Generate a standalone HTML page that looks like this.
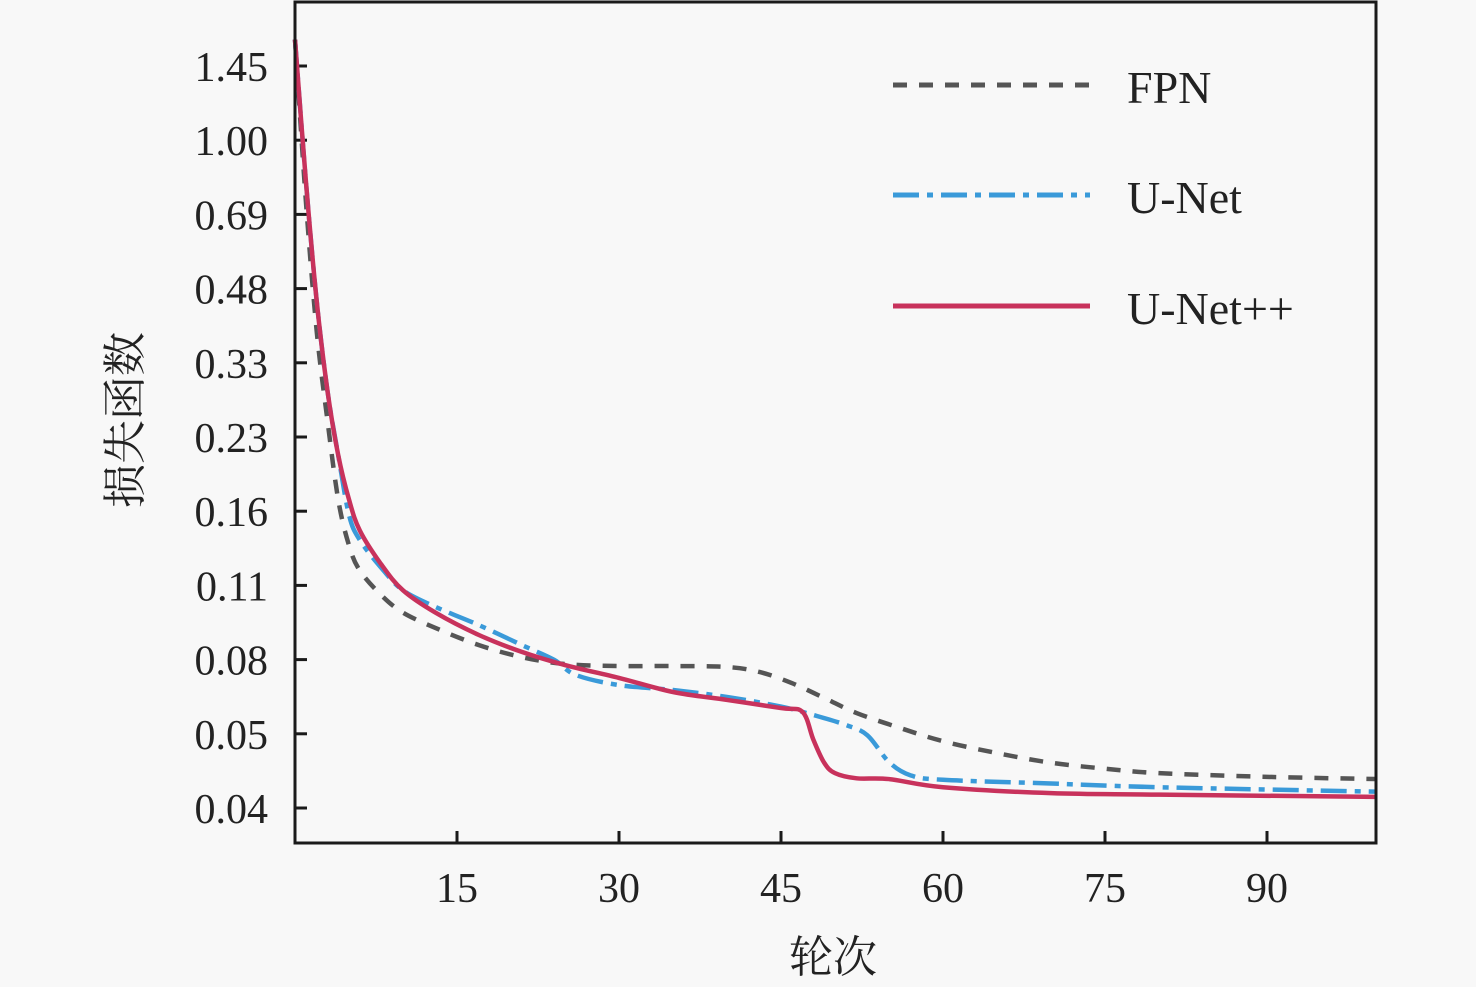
<!DOCTYPE html>
<html><head><meta charset="utf-8"><style>
body{margin:0;background:#f8f8f8;}
svg{display:block;font-family:"Liberation Serif","Noto Serif CJK SC",serif;}
</style></head><body>
<svg id="chart" width="1476" height="987" viewBox="0 0 1476 987">
<rect x="0" y="0" width="1476" height="987" fill="#f8f8f8"/>
<g id="ticks"></g>
<g id="series"></g>
<rect x="295" y="2" width="1081" height="841" fill="none" stroke="#1a1a1a" stroke-width="3"/>
<text x="833" y="972" font-size="44" text-anchor="middle" fill="#222">轮次</text>
<text transform="translate(140,420) rotate(-90)" font-size="44" text-anchor="middle" fill="#222">损失函数</text>
<g>
<line x1="893" y1="85" x2="1090" y2="85" stroke="#555" stroke-width="5" stroke-dasharray="14 12"/>
<text x="1127" y="103" font-size="46" fill="#222">FPN</text>
<line x1="893" y1="195" x2="1090" y2="195" stroke="#3a9ad9" stroke-width="5" stroke-dasharray="26 8 6 8"/>
<text x="1127" y="213" font-size="46" fill="#222">U-Net</text>
<line x1="893" y1="306" x2="1090" y2="306" stroke="#c8325c" stroke-width="5"/>
<text x="1127" y="324" font-size="46" fill="#222">U-Net++</text>
</g>
</svg>
<script>
const yTickValues=[1.45,1.00,0.69,0.48,0.33,0.23,0.16,0.11,0.08,0.05,0.04];
const yTickLabels=["1.45","1.00","0.69","0.48","0.33","0.23","0.16","0.11","0.08","0.05","0.04"];
const xTickValues=[15,30,45,60,75,90];
const fpnX=[0,1,2,3,4,5,6,8,10,13,17,21,25,30,35,40,43,46,49,52,56,60,65,70,75,80,90,100];
const fpnY=[1.61,0.75,0.396,0.253,0.171,0.137,0.120,0.106,0.099,0.0928,0.0859,0.081,0.0782,0.0774,0.0774,0.077,0.075,0.0705,0.0645,0.0584,0.0524,0.049,0.0474,0.0461,0.0453,0.0447,0.0442,0.0439];
const unetX=[0,1,2,3,4,5,6,8,10,13,17,21,24,26,30,35,40,45,48,51,53,55,57,60,70,80,100];
const unetY=[1.61,0.834,0.457,0.293,0.213,0.1575,0.1406,0.1217,0.108,0.1013,0.094,0.0859,0.0799,0.0738,0.0697,0.0677,0.0649,0.061,0.0576,0.0536,0.0498,0.0462,0.0444,0.0438,0.0433,0.0428,0.0422];
const unetppX=[0,1,2,3,4,5,6,8,10,13,17,21,25,30,35,40,45,47,48,49,50,52,55,60,70,80,100];
const unetppY=[1.61,0.834,0.457,0.293,0.213,0.171,0.147,0.124,0.108,0.099,0.090,0.0831,0.0778,0.0726,0.0669,0.0637,0.0604,0.0588,0.0492,0.0461,0.0447,0.044,0.0439,0.0428,0.042,0.0418,0.0415];

const NS="http://www.w3.org/2000/svg";
function xScale(v){return 295+v*10.8;}
function yScale(v){
  const t=yTickValues,n=t.length;
  let i;
  if(v>=t[0]) i=-(v-t[0])/(t[0]-t[1]);
  else if(v<=t[n-1]) i=(n-1)+(t[n-1]-v)/(t[n-2]-t[n-1]);
  else{for(let k=0;k<n-1;k++){if(v<=t[k]&&v>=t[k+1]){i=k+(t[k]-v)/(t[k]-t[k+1]);break;}}}
  return 66+i*74.2;
}
const tg=document.getElementById('ticks');
yTickValues.forEach((v,k)=>{
  const y=yScale(v);
  const l=document.createElementNS(NS,'line');
  l.setAttribute('x1',295);l.setAttribute('x2',307);l.setAttribute('y1',y);l.setAttribute('y2',y);
  l.setAttribute('stroke','#1a1a1a');l.setAttribute('stroke-width','3');
  
  
  tg.appendChild(l);
  const t=document.createElementNS(NS,'text');
  t.setAttribute('x',268);t.setAttribute('y',y+15);t.setAttribute('font-size','42');t.setAttribute('text-anchor','end');t.setAttribute('fill','#222');
  t.textContent=yTickLabels[k];
  
  
  tg.appendChild(t);
});
xTickValues.forEach(v=>{
  const x=xScale(v);
  const l=document.createElementNS(NS,'line');
  l.setAttribute('x1',x);l.setAttribute('x2',x);l.setAttribute('y1',843);l.setAttribute('y2',831);
  l.setAttribute('stroke','#1a1a1a');l.setAttribute('stroke-width','3');
  
  
  tg.appendChild(l);
  const t=document.createElementNS(NS,'text');
  t.setAttribute('x',x);t.setAttribute('y',902);t.setAttribute('font-size','42');t.setAttribute('text-anchor','middle');t.setAttribute('fill','#222');
  t.textContent=String(v);
  
  
  tg.appendChild(t);
});
function pathD(xs,ys){
  const p=xs.map((x,i)=>[xScale(x),yScale(ys[i])]);
  let d='M'+p[0][0]+','+p[0][1];
  for(let i=0;i<p.length-1;i++){
    const p0=p[i-1]||p[i],p1=p[i],p2=p[i+1],p3=p[i+2]||p2;
    const c1=[p1[0]+(p2[0]-p0[0])/6,p1[1]+(p2[1]-p0[1])/6];
    const c2=[p2[0]-(p3[0]-p1[0])/6,p2[1]-(p3[1]-p1[1])/6];
    d+=' C'+c1[0]+','+c1[1]+' '+c2[0]+','+c2[1]+' '+p2[0]+','+p2[1];
  }
  return d;
}
const sg=document.getElementById('series');
function addSeries(xs,ys,color,dash,name){
  const p=document.createElementNS(NS,'path');
  p.setAttribute('d',pathD(xs,ys));
  p.setAttribute('fill','none');p.setAttribute('stroke',color);p.setAttribute('stroke-width','4.5');
  if(dash)p.setAttribute('stroke-dasharray',dash);
  
  
  sg.appendChild(p);
}
addSeries(fpnX,fpnY,'#555','14 12','fpn-line');
addSeries(unetX,unetY,'#3a9ad9','26 8 6 8','unet-line');
addSeries(unetppX,unetppY,'#c8325c',null,'unetpp-line');
</script>
</body></html>
